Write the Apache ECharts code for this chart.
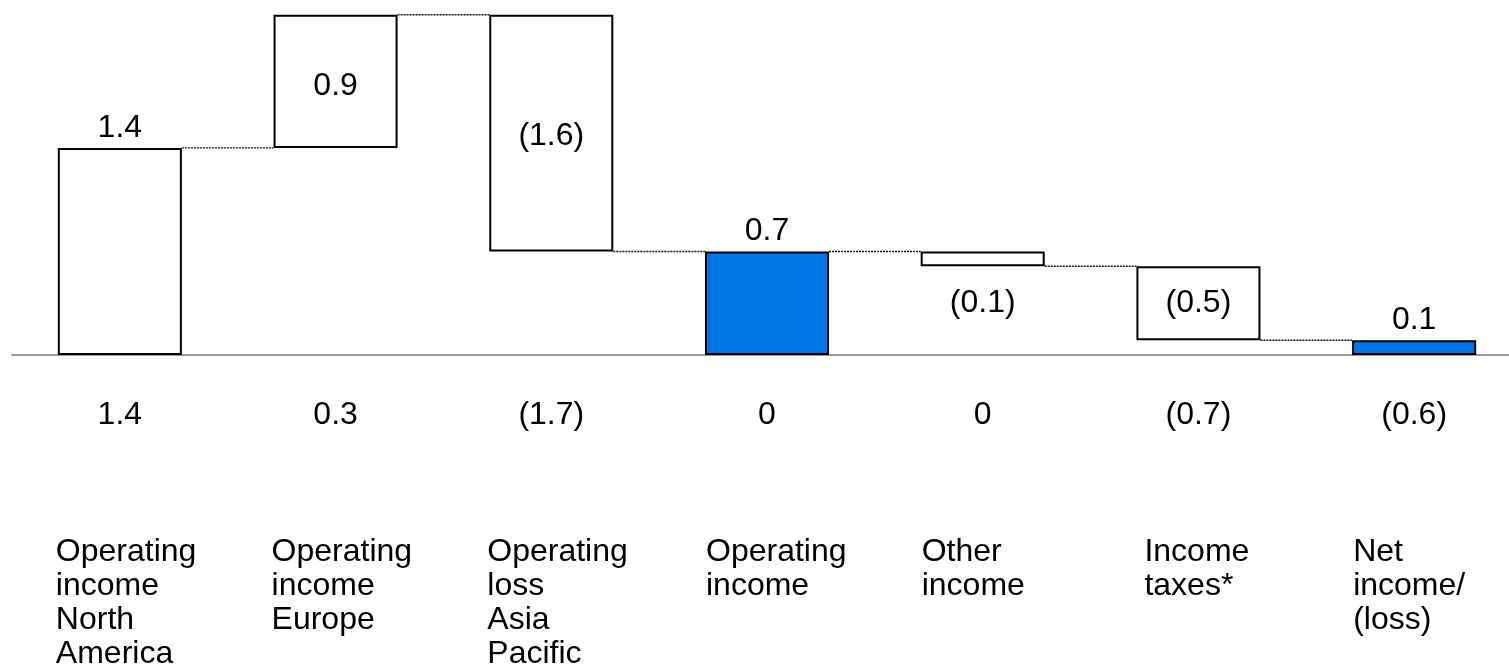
<!DOCTYPE html>
<html><head><meta charset="utf-8">
<script src="https://cdn.jsdelivr.net/npm/echarts@6/dist/echarts.min.js"></script>
<style>html,body{margin:0;padding:0;background:#fff}#c{width:1509px;height:667px}</style>
</head><body><div id="c"></div>
<script>
// ---- data ----
const categories = [
  ['Operating','income','North','America'],
  ['Operating','income','Europe'],
  ['Operating','loss','Asia','Pacific'],
  ['Operating','income'],
  ['Other','income'],
  ['Income','taxes*'],
  ['Net','income/','(loss)']
];
const changes = [1.4, 0.9, -1.6, 0.7, -0.1, -0.5, 0.1];
const isTotal = [false, false, false, true, false, false, true];
const valueLabels = ['1.4', '0.9', '(1.6)', '0.7', '(0.1)', '(0.5)', '0.1'];
const secondRowLabels = ['1.4', '0.3', '(1.7)', '0', '0', '(0.7)', '(0.6)'];

// ---- styles ----
const labelPos = ['top', 'inside', 'inside', 'top', 'bottom', 'inside', 'top'];
const labelDist = [3, 0, 0, 3, 20, 0, 3];
const labelOffset = [[0,0], [0,5], [0,3], [0,0], [0,0], [0,0], [0,0]];
const catWidth = [128, 128, 128, 122, 122, 108, 122];
const FONT = "'Liberation Sans', Arial, sans-serif";
const FS = 32;
const BAR_RATIO = 0.575;

// ---- build waterfall ----
const base = [], heights = [], levels = [];
let running = 0;
changes.forEach((c, i) => {
  if (isTotal[i]) { base.push(0); heights.push(c); running = c; }
  else if (c >= 0) { base.push(running); heights.push(c); running += c; }
  else { running += c; base.push(running); heights.push(-c); }
  levels.push(+running.toFixed(4));
});
const connectors = [];
for (let i = 0; i < changes.length - 1; i++) connectors.push([i, levels[i]]);

const idx = categories.map((_, i) => i);

const chart = echarts.init(document.getElementById('c'));
chart.setOption({
  animation: false,
  backgroundColor: '#fff',
  textStyle: { fontFamily: FONT },
  grid: { left: 12, width: 1510, top: 0, height: 355, containLabel: false, outerBoundsMode: 'none' },
  xAxis: [{
    type: 'category', data: idx, position: 'bottom',
    axisLine: { show: true, lineStyle: { color: '#999', width: 2 } },
    axisTick: { show: false },
    axisLabel: {
      interval: 0, margin: 43, fontSize: FS, lineHeight: 34, color: '#000', fontFamily: FONT,
      formatter: (v, i) => secondRowLabels[i]
    }
  }, {
    type: 'category', data: idx, position: 'bottom',
    axisLine: { show: false }, axisTick: { show: false },
    axisLabel: {
      interval: 0, margin: 180, color: '#000',
      formatter: (v, i) => categories[i].map(s => '{c' + i + '|' + s + '}').join('\n'),
      rich: Object.fromEntries(catWidth.map((w, i) => ['c' + i, {
        width: w, align: 'left', fontSize: FS, lineHeight: 34, color: '#000', fontFamily: FONT
      }]))
    }
  }],
  yAxis: { type: 'value', min: 0, max: 2.4, show: false, splitLine: { show: false } },
  series: [{
    type: 'bar', stack: 'w', barWidth: (BAR_RATIO * 100) + '%', silent: true,
    itemStyle: { color: 'transparent' },
    data: base
  }, {
    type: 'bar', stack: 'w', barWidth: (BAR_RATIO * 100) + '%',
    data: heights.map((h, i) => ({
      value: h,
      itemStyle: {
        color: isTotal[i] ? '#0077e6' : '#ffffff',
        borderColor: '#000', borderWidth: 2
      },
      label: {
        show: true, position: labelPos[i], distance: labelDist[i], offset: labelOffset[i],
        formatter: valueLabels[i], fontSize: FS, lineHeight: 34, color: '#000', fontFamily: FONT
      }
    }))
  }, {
    type: 'custom', silent: true, z: 3,
    data: connectors,
    renderItem: (params, api) => {
      const i = api.value(0), lv = api.value(1);
      const p1 = api.coord([i, lv]);
      const p2 = api.coord([i + 1, lv]);
      const half = api.size([1, 0])[0] * BAR_RATIO / 2;
      return {
        type: 'line',
        shape: { x1: p1[0] + half, y1: p1[1], x2: p2[0] - half, y2: p2[1] },
        style: { stroke: '#111', lineWidth: 1.4, lineDash: [2, 1] }
      };
    }
  }]
});
</script>
</body></html>
